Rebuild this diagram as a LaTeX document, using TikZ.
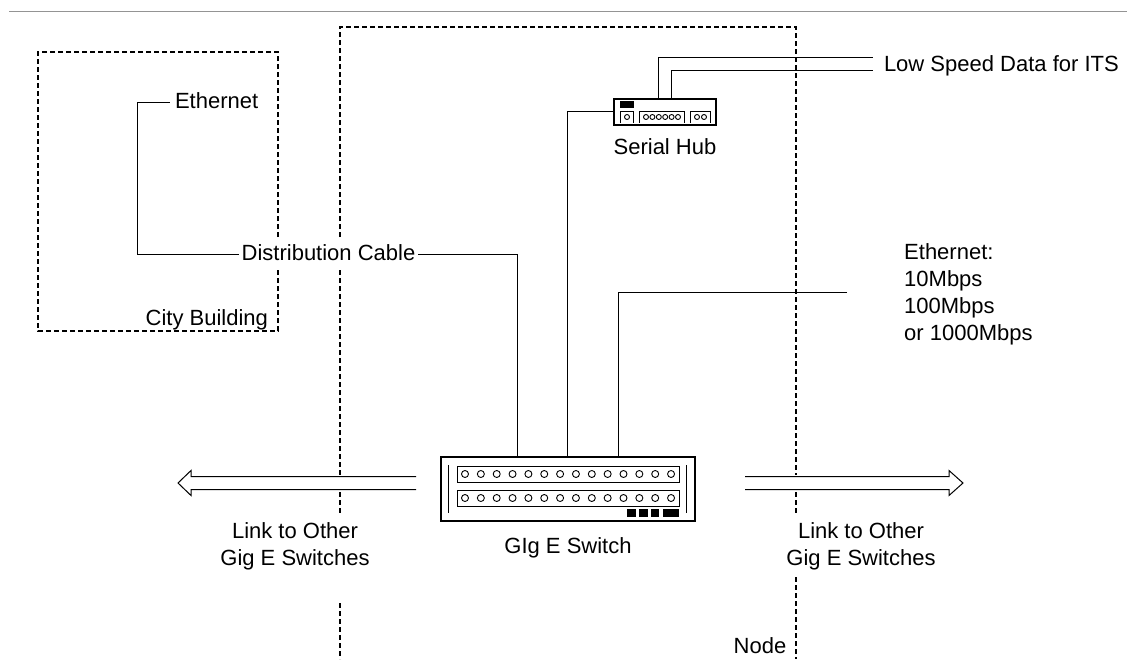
\documentclass[tikz,border=0pt]{standalone}
\usepackage{fontspec}
\setmainfont{Liberation Sans}
\tikzset{
  lbl/.style={font=\fontsize{22}{27}\selectfont,inner sep=0pt,outer sep=3pt,text height=12pt,text depth=0pt},
  lblblock/.style={font=\fontsize{22}{27}\selectfont,inner sep=0pt,align=center},
  wire/.style={line width=1pt},
  bound/.style={line width=2.2pt,dash pattern=on 5pt off 3pt},
  casing/.style={draw,line width=2pt,inner sep=0pt,fill=white},
  portrow/.style={draw,line width=1pt,inner sep=0pt,minimum height=16pt},
  port/.style={draw,line width=0.9pt,circle,inner sep=0pt},
}
\begin{document}
\begin{tikzpicture}[x=1pt,y=-1pt]
\useasboundingbox (0,0) rectangle (1127,659);
\fill[white] (0,0) rectangle (1127,659);
\draw[line width=1pt,black!42] (9,11) -- (1127,11);

% city building
\draw[bound] (278,237) -- (278,52) -- (38,52) -- (38,331) -- (278,331) -- (278,270);

% node boundary
\draw[bound] (340,237) -- (340,27) -- (796,27) -- (796,475);
\draw[bound] (340,270) -- (340,475);
\draw[bound] (340,492) -- (340,513);
\draw[bound] (340,603) -- (340,659);
\draw[bound] (796,492) -- (796,515);
\draw[bound] (796,577) -- (796,659);

% gig e switch
\node[casing,minimum width=254pt,minimum height=64pt] (gigswitch) at (568,489) {};
\node[portrow,minimum width=222pt] (rowtop) at (568,474) {};
\node[portrow,minimum width=222pt] (rowbot) at (568,498) {};
\foreach \i in {0,...,13} {
  \node[port,minimum size=7pt] (pa\i) at (465+15.85*\i,474) {};
  \node[port,minimum size=7pt] (pb\i) at (465+15.85*\i,498) {};
}
\draw[line width=1pt] (448,465) -- (448,513);
\draw[line width=1pt] (686,465) -- (686,513);
\fill (627,509) rectangle (636,517);
\fill (639,509) rectangle (648,517);
\fill (651,509) rectangle (659,517);
\fill (663,509) rectangle (679,517);

% serial hub
\node[casing,minimum width=102pt,minimum height=26pt] (hub) at (665,111.5) {};
\fill (620,101) rectangle (634,108);
\draw[line width=1pt] (620,123) -- (620,111) -- (633,111) -- (633,123);
\draw[line width=1pt] (639,123) -- (639,111) -- (684,111) -- (684,123);
\draw[line width=1pt] (690,123) -- (690,111) -- (710,111) -- (710,123);
\node[port,minimum size=5pt] (hp0) at (627,117) {};
\foreach \i in {0,...,5}
  \node[port,minimum size=5pt] (hq\i) at (646+6.4*\i,117) {};
\node[port,minimum size=5pt] (hr0) at (697,117) {};
\node[port,minimum size=5pt] (hr1) at (704,117) {};

% labels
\node[lbl,outer sep=5pt,anchor=west] (ethcity) at (170,102.5) {Ethernet};
\node[lbl] (distlabel) at (328.5,254.5) {Distribution Cable};
\node[lbl,anchor=east] (citylabel) at (271,319) {City Building};
\node[lbl] (hublabel) at (665,148) {Serial Hub};
\node[lbl] (switchlabel) at (568,547) {GIg E Switch};
\node[lbl,anchor=west] (itslabel) at (881,65) {Low Speed Data for ITS};
\node[lbl] (nodelabel) at (760,647) {Node};
\node[lblblock,align=left,anchor=north west] (ethspeed) at (904,243) {Ethernet:\\10Mbps\\100Mbps\\or 1000Mbps};
\node[lblblock,anchor=north] (linkleft) at (295,522) {Link to Other\\Gig E Switches};
\node[lblblock,anchor=north] (linkright) at (861,522) {Link to Other\\Gig E Switches};

% free ends and ports
\coordinate (swA) at (517.5,457);
\coordinate (swB) at (567.5,457);
\coordinate (swC) at (618.5,457);
\coordinate (hubA) at (658.5,98);
\coordinate (hubB) at (671.5,98);
\coordinate (cityturn) at (137.5,180);
\coordinate (speedend) at (847,292.5);
\coordinate (itsA) at (873,57.5);
\coordinate (itsB) at (873,70.5);
\coordinate (linkL) at (416,483);
\coordinate (linkR) at (745,483);

% cables
\draw[wire] (distlabel.west) -| (cityturn) |- (ethcity.west);
\draw[wire] (distlabel.east) -| (swA);
\draw[wire] (hub.west) -| (swB);
\draw[wire] (speedend) -| (swC);
\draw[wire] (hubA) |- (itsA);
\draw[wire] (hubB) |- (itsB);

% links
\draw[wire] (linkL) ++(0,-6.5) -- ++(-225,0) -- ++(0,-6) -- ++(-13,12.5) -- ++(13,12.5) -- ++(0,-6) -- ++(225,0);
\draw[wire] (linkR) ++(0,-6.5) -- ++(204,0) -- ++(0,-6) -- ++(14,12.5) -- ++(-14,12.5) -- ++(0,-6) -- ++(-204,0);
\end{tikzpicture}
\end{document}
